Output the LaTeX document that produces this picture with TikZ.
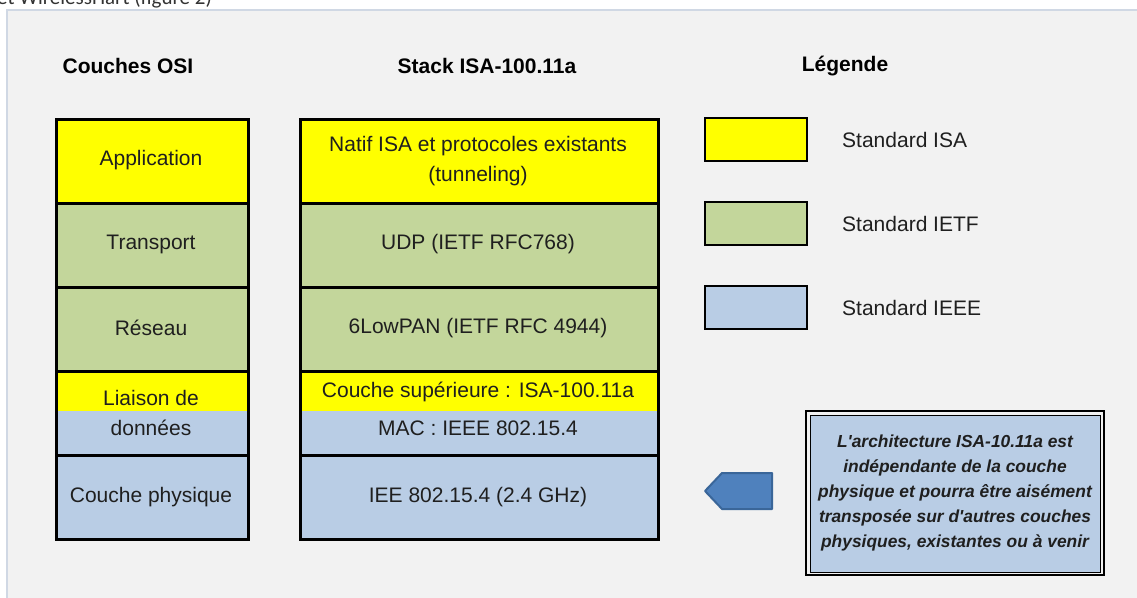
\documentclass[tikz,border=0pt]{standalone}
\usepackage{fontspec}
\setmainfont{Liberation Sans}
\newfontfamily\notefont{Liberation Sans}
\newfontfamily\carl{Carlito}
\definecolor{isa}{HTML}{FFFF00}
\definecolor{ietf}{HTML}{C3D69B}
\definecolor{ieee}{HTML}{B9CDE5}
\definecolor{bg}{HTML}{F2F2F2}
\definecolor{frameline}{HTML}{D0D8E4}
\definecolor{arrowfill}{HTML}{4F81BD}
\definecolor{arrowline}{HTML}{3A6699}
\begin{document}
\begin{tikzpicture}[x=1pt,y=-1pt,
  cell/.style={draw=black,line width=2.5pt,inner sep=0pt,anchor=north west},
  leftcell/.style={cell,minimum width=192,minimum height=84},
  midcell/.style={cell,minimum width=358,minimum height=84},
  legbox/.style={draw=black,line width=2.2pt,inner sep=0pt,anchor=north west,minimum width=102,minimum height=43},
  txt/.style={font=\fontsize{21}{30}\selectfont,inner sep=0pt,text=black!88,align=center},
  head/.style={font=\fontsize{21}{25}\selectfont\bfseries,inner sep=0pt},
  legtxt/.style={font=\fontsize{21}{25}\selectfont,inner sep=0pt,anchor=west,text=black!88}]
\useasboundingbox (0,0) rectangle (1137,597);
\clip (0,0) rectangle (1137,597);
\fill[white] (0,0) rectangle (1137,597);
\fill[bg] (7,10) rectangle (1140,600);
\draw[frameline,line width=1.2pt] (7,600) -- (7,10) -- (1140,10);
\node[anchor=base west,font=\carl\fontsize{21}{25}\selectfont,inner sep=0pt,text=black!80] (top) at (-3,5) {et WirelessHart (figure 2)};
% headings
\node[head] (h1) at (128,66) {Couches OSI};
\node[head] (h2) at (487,66) {Stack ISA-100.11a};
\node[head] (h3) at (845,66) {Légende};
% left column
\node[leftcell,fill=isa] (l1) at (55,118) {};
\node[leftcell,fill=ietf] (l2) at (55,202) {};
\node[leftcell,fill=ietf] (l3) at (55,286) {};
\fill[isa] (55,370) rectangle (247,411);
\fill[ieee] (55,411) rectangle (247,454);
\node[leftcell] (l4) at (55,370) {};
\node[leftcell,fill=ieee] (l5) at (55,454) {};
\node[txt] (t1) at (151,160) {Application};
\node[txt] (t2) at (151,244) {Transport};
\node[txt] (t3) at (151,328) {Réseau};
\node[txt] (t4a) at (151,398) {Liaison de};
\node[txt] (t4b) at (151,428) {données};
\node[txt] (t5) at (151,497) {Couche physique};
% middle column
\node[midcell,fill=isa] (m1) at (299,118) {};
\node[midcell,fill=ietf] (m2) at (299,202) {};
\node[midcell,fill=ietf] (m3) at (299,286) {};
\fill[isa] (299,370) rectangle (657,411);
\fill[ieee] (299,411) rectangle (657,454);
\node[midcell] (m4) at (299,370) {};
\node[midcell,fill=ieee] (m5) at (299,454) {};
\node[txt] (s1) at (478,161) {Natif ISA et protocoles existants\\(tunneling)};
\node[txt] (s2) at (478,244) {UDP (IETF RFC768)};
\node[txt] (s3) at (478,328) {6LowPAN (IETF RFC 4944)};
\node[txt] (s4a) at (478,392) {Couche supérieure : ISA-100.11a};
\node[txt] (s4b) at (478,428) {MAC : IEEE 802.15.4};
\node[txt] (s5) at (478,497) {IEE 802.15.4 (2.4 GHz)};
% legend
\node[legbox,fill=isa] (g1) at (704,117) {};
\node[legbox,fill=ietf] (g2) at (704,201) {};
\node[legbox,fill=ieee] (g3) at (704,285) {};
\node[legtxt] (gt1) at (842,140) {Standard ISA};
\node[legtxt] (gt2) at (842,224) {Standard IETF};
\node[legtxt] (gt3) at (842,308) {Standard IEEE};
% arrow
\draw[arrowline,fill=arrowfill,line width=2pt,line join=round] (705,491) -- (722,473) -- (772,473) -- (772,509) -- (722,509) -- cycle;
% note box
\draw[black,line width=1.6pt,fill=bg] (805.8,410.8) rectangle (1104.2,575.2);
\node[draw=black,line width=1pt,fill=ieee,anchor=north west,minimum width=290,minimum height=157,inner sep=0pt] (note) at (810,415) {};
\node[font=\notefont\fontsize{17.4}{25}\selectfont\bfseries\itshape,align=center,inner sep=0pt,text=black!88] (notetxt) at (955,493) {L'architecture ISA-10.11a est\\indépendante de la couche\\physique et pourra être aisément\\transposée sur d'autres couches\\physiques, existantes ou à venir};
\end{tikzpicture}
\end{document}
